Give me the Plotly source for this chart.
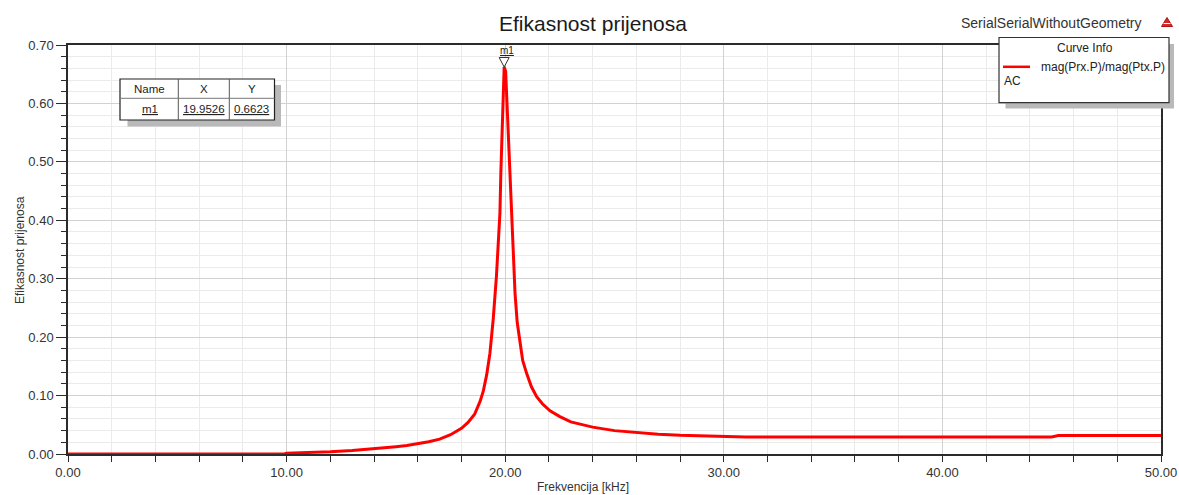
import plotly.graph_objects as go

# ---------------- data ----------------
freq_khz = [0.0, 9.9, 10.0, 11.0, 12.0, 13.0, 14.0, 15.0, 15.5, 16.0, 16.5, 17.0,
            17.5, 18.0, 18.3, 18.6, 18.85, 19.0, 19.15, 19.3, 19.45, 19.6, 19.7,
            19.76, 19.8, 19.85, 19.89, 19.9526, 20.02, 20.08, 20.14, 20.22, 20.30,
            20.34, 20.45, 20.55, 20.68, 20.8, 20.98, 21.2, 21.44, 21.7, 22.05, 22.5,
            23.0, 23.5, 24.0, 25.0, 26.0, 27.0, 28.0, 29.0, 30.5, 31.0, 35.0, 40.0,
            45.0, 45.3, 50.0]
efficiency = [0.000, 0.000, 0.0015, 0.0025, 0.0038, 0.0058, 0.0085, 0.0125, 0.0145,
              0.0175, 0.021, 0.0255, 0.033, 0.044, 0.054, 0.068, 0.090, 0.108, 0.135,
              0.172, 0.230, 0.305, 0.370, 0.413, 0.480, 0.550, 0.607, 0.6623, 0.655,
              0.600, 0.540, 0.458, 0.398, 0.367, 0.275, 0.225, 0.190, 0.160, 0.138,
              0.115, 0.098, 0.086, 0.074, 0.064, 0.055, 0.050, 0.046, 0.040, 0.0365,
              0.034, 0.032, 0.031, 0.0295, 0.029, 0.029, 0.029, 0.029, 0.0315, 0.0315]

marker_name = "m1"
marker_x = 19.9526
marker_y = 0.6623

x_tick_values = [0, 10, 20, 30, 40, 50]
y_tick_values = [0.0, 0.1, 0.2, 0.3, 0.4, 0.5, 0.6, 0.7]

title_text = "Efikasnost prijenosa"
x_title = "Frekvencija [kHz]"
y_title = "Efikasnost prijenosa"
design_name = "SerialSerialWithoutGeometry"
legend_header = "Curve Info"
curve_label = "mag(Prx.P)/mag(Ptx.P)"
curve_sub = "AC"
table_headers = ["Name", "X", "Y"]

# ---------------- layout geometry ----------------
W, H = 1179, 495
L, T = 68, 45
PW, PH = 1093, 409
R = W - L - PW
B = H - T - PH
FONT = "Liberation Sans, Arial, sans-serif"


def px(x):
    return (x - L) / PW


def py(y):
    return (T + PH - y) / PH


fig = go.Figure()
fig.add_trace(go.Scatter(
    x=freq_khz, y=efficiency, mode="lines",
    line=dict(color="#ff0000", width=3),
    showlegend=False, hoverinfo="skip",
))

shapes = []
annotations = []

# title and design name
annotations.append(dict(text=title_text, x=px(592.5), y=py(24), xref="paper", yref="paper",
                        showarrow=False, xanchor="center", yanchor="middle",
                        font=dict(family=FONT, size=21, color="#1a1a1a")))
annotations.append(dict(text=design_name, x=px(1051.5), y=py(23), xref="paper", yref="paper",
                        showarrow=False, xanchor="center", yanchor="middle",
                        font=dict(family=FONT, size=14, color="#333333")))
# small logo
shapes.append(dict(type="path", xref="paper", yref="paper",
                   path=f"M{px(1161.5)},{py(26.5)} L{px(1172.5)},{py(26.5)} L{px(1167)},{py(17.5)} Z",
                   fillcolor="#d42a2a", line=dict(color="#b01010", width=1), layer="above"))
shapes.append(dict(type="line", xref="paper", yref="paper",
                   x0=px(1163.5), x1=px(1170.5), y0=py(23.5), y1=py(23.5),
                   line=dict(color="white", width=1), layer="above"))

# axis titles
annotations.append(dict(text=x_title, x=px(583), y=py(487), xref="paper", yref="paper",
                        showarrow=False, xanchor="center", yanchor="middle",
                        font=dict(family=FONT, size=12, color="#333333")))
annotations.append(dict(text=y_title, x=px(20), y=py(250), xref="paper", yref="paper",
                        showarrow=False, xanchor="center", yanchor="middle", textangle=-90,
                        font=dict(family=FONT, size=12, color="#333333")))

# marker table (shadow, box, grid lines, texts)
shapes.append(dict(type="rect", xref="paper", yref="paper",
                   x0=px(127.5), x1=px(281), y0=py(85), y1=py(126.5),
                   fillcolor="#b9b9b9", line=dict(width=0), layer="above"))
shapes.append(dict(type="rect", xref="paper", yref="paper",
                   x0=px(120), x1=px(274.5), y0=py(79), y1=py(120),
                   fillcolor="white", line=dict(color="#222222", width=1.2), layer="above"))
for cx in (178.3, 229.3):
    shapes.append(dict(type="line", xref="paper", yref="paper",
                       x0=px(cx), x1=px(cx), y0=py(79), y1=py(120),
                       line=dict(color="#555555", width=1), layer="above"))
shapes.append(dict(type="line", xref="paper", yref="paper",
                   x0=px(120), x1=px(274.5), y0=py(98.3), y1=py(98.3),
                   line=dict(color="#777777", width=1), layer="above"))
col_centers = [149.5, 204, 251.8]
row_values = [marker_name, f"{marker_x:.4f}", f"{marker_y:.4f}"]
for cx, head, val in zip(col_centers, table_headers, row_values):
    annotations.append(dict(text=head, x=px(cx), y=py(89.5), xref="paper", yref="paper",
                            showarrow=False, xanchor="center", yanchor="middle",
                            font=dict(family=FONT, size=11.5, color="#222222")))
    annotations.append(dict(text=f"<u>{val}</u>", x=px(cx), y=py(108.5), xref="paper", yref="paper",
                            showarrow=False, xanchor="center", yanchor="middle",
                            font=dict(family=FONT, size=11.5, color="#222222")))

# curve info box
shapes.append(dict(type="rect", xref="paper", yref="paper",
                   x0=px(1005.5), x1=px(1174), y0=py(44), y1=py(108.5),
                   fillcolor="#b9b9b9", line=dict(width=0), layer="above"))
shapes.append(dict(type="rect", xref="paper", yref="paper",
                   x0=px(999), x1=px(1169), y0=py(37.5), y1=py(102.7),
                   fillcolor="white", line=dict(color="#333333", width=1.2), layer="above"))
annotations.append(dict(text=legend_header, x=px(1085), y=py(48), xref="paper", yref="paper",
                        showarrow=False, xanchor="center", yanchor="middle",
                        font=dict(family=FONT, size=12, color="#222222")))
shapes.append(dict(type="line", xref="paper", yref="paper",
                   x0=px(1003), x1=px(1030), y0=py(66.8), y1=py(66.8),
                   line=dict(color="#ff0000", width=2.5), layer="above"))
annotations.append(dict(text=curve_label, x=px(1039), y=py(67.5), xref="paper", yref="paper",
                        showarrow=False, xanchor="left", yanchor="middle",
                        font=dict(family=FONT, size=12, color="#222222")))
annotations.append(dict(text=curve_sub, x=px(1002), y=py(81), xref="paper", yref="paper",
                        showarrow=False, xanchor="left", yanchor="middle",
                        font=dict(family=FONT, size=12, color="#222222")))

# marker glyph at the peak (anchored to the data point, offsets in pixels)
shapes.append(dict(type="path", xref="x", yref="y", xsizemode="pixel", ysizemode="pixel",
                   xanchor=marker_x, yanchor=marker_y,
                   path="M-5,9.5 L5,9.5 L0,0 Z",
                   fillcolor="white", line=dict(color="#333333", width=1), layer="above"))
annotations.append(dict(text=f"<u>{marker_name}</u>", x=marker_x, y=marker_y, xref="x", yref="y",
                        showarrow=False, xanchor="center", yanchor="middle",
                        xshift=3, yshift=17,
                        font=dict(family=FONT, size=10, color="#222222")))

axis_common = dict(
    showline=True, linecolor="#2b2b2b", linewidth=1.5, mirror=True,
    ticks="outside", tickcolor="#2b2b2b", tickwidth=1,
    showgrid=True, gridcolor="#d2d2d2", gridwidth=1, zeroline=False,
    tickfont=dict(family=FONT, size=13, color="#333333"),
    tickformat=".2f",
)

fig.update_layout(
    width=W, height=H,
    margin=dict(l=L, r=R, t=T, b=B, pad=0, autoexpand=False),
    paper_bgcolor="white", plot_bgcolor="white",
    xaxis=dict(range=[0, 50], tickmode="array", tickvals=x_tick_values, ticklen=6,
               minor=dict(dtick=2, tick0=0, ticks="outside", ticklen=6, tickcolor="#2b2b2b",
                          showgrid=True, gridcolor="#ebebeb", gridwidth=1),
               **axis_common),
    yaxis=dict(range=[0, 0.7], tickmode="array", tickvals=y_tick_values, ticklen=10,
               minor=dict(dtick=0.02, tick0=0, ticks="outside", ticklen=5, tickcolor="#2b2b2b",
                          showgrid=True, gridcolor="#ebebeb", gridwidth=1),
               **axis_common),
    shapes=shapes,
    annotations=annotations,
    showlegend=False,
)

# remove the browser's default 8px page margin so the figure fills the window
page_fix = ("document.documentElement.style.margin='0';"
            "document.body.style.margin='0';document.body.style.overflow='hidden';")

fig.write_html("out.html", config={"displayModeBar": False}, post_script=page_fix)
